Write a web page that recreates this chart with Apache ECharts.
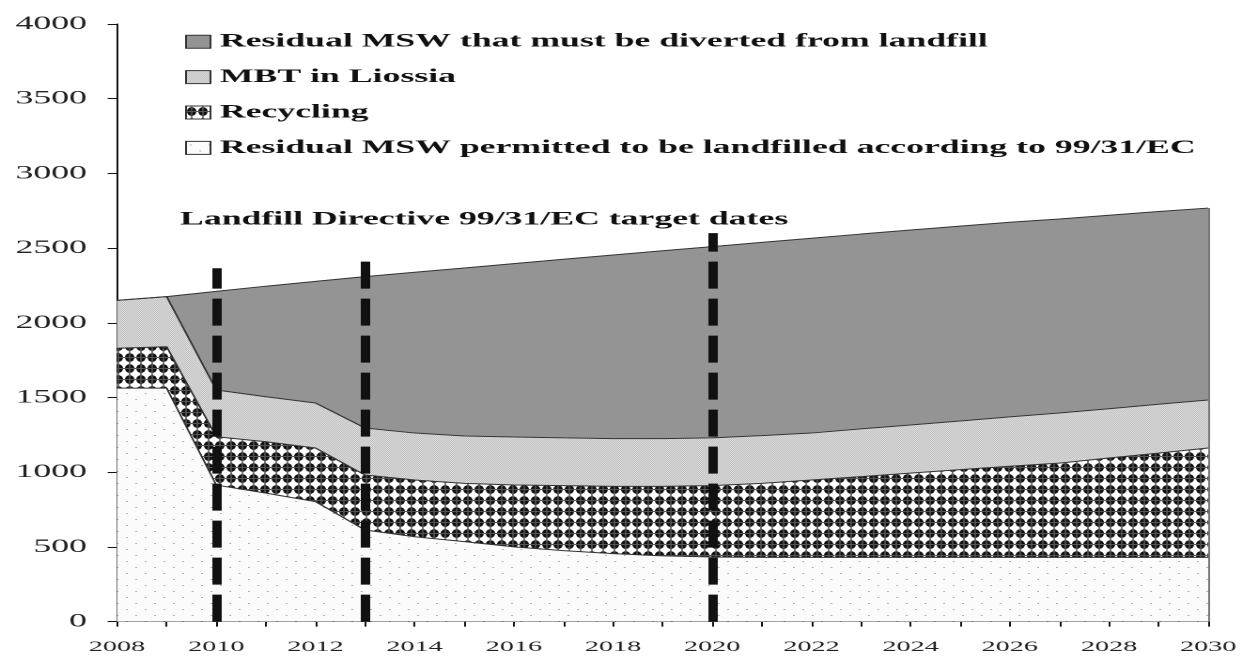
<!DOCTYPE html>
<html>
<head>
<meta charset="utf-8">
<script src="https://cdn.jsdelivr.net/npm/echarts@6/dist/echarts.min.js"></script>
<style>
  html, body { margin: 0; padding: 0; background: #ffffff; overflow: hidden; }
  #wrap { width: 1242px; height: 657px; overflow: hidden; }
  #chart { width: 661px; height: 657px; transform: scaleX(1.879); transform-origin: 0 0; }
</style>
</head>
<body>
<div id="wrap"><div id="chart"></div></div>
<script>
// ---------------- data ----------------
const years = ['2008','2009','2010','2011','2012','2013','2014','2015','2016','2017','2018','2019',
               '2020','2021','2022','2023','2024','2025','2026','2027','2028','2029','2030'];
const seriesNames = [
  'Residual MSW that must be diverted from landfill',
  'MBT in Liossia',
  'Recycling',
  'Residual MSW permitted to be landfilled according to 99/31/EC'
];
// stacked from the bottom: permitted, recycling, MBT, diverted
const permitted = [1563,1563,914,860,803,613,568,535,500,475,455,440,432,430,430,430,430,430,430,430,430,430,430];
const recycling = [267,277,323,344,359,368,380,390,414,435,450,465,478,495,518,540,564,587,610,631,665,698,732];
const mbt       = [320,335,313,301,301,315,314,317,322,320,320,320,320,320,314,320,322,326,330,335,330,327,321];
const diverted  = [0,0,660,740,814,1013,1076,1125,1160,1195,1229,1257,1280,1293,1304,1304,1305,1304,1303,1299,1295,1290,1285];
const yTicks = { min: 0, max: 4000, interval: 500 };
const targetLabel = 'Landfill Directive 99/31/EC target dates';
const targetYears = ['2010','2013','2020'];
const targetTops  = [2365, 2416, 2600];

// ---------------- patterns ----------------
function tile(w, h, draw) {
  const c = document.createElement('canvas');
  c.width = w * 2; c.height = h * 2;
  const ctx = c.getContext('2d');
  ctx.scale(2, 2);
  draw(ctx, w, h);
  return { image: c, repeat: 'repeat', scaleX: 0.5, scaleY: 0.5 };
}
const patPermitted = tile(10, 12, (ctx, w, h) => {
  ctx.fillStyle = '#fbfbfb'; ctx.fillRect(0, 0, w, h);
  ctx.fillStyle = '#b0b0b0';
  ctx.fillRect(2, 3, 1, 1);
  ctx.fillRect(7, 9, 1, 1);
});
const patRecycling = tile(6, 11, (ctx, w, h) => {
  ctx.fillStyle = '#ffffff'; ctx.fillRect(0, 0, w, h);
  ctx.fillStyle = '#111111';
  ctx.beginPath();
  ctx.ellipse(3, 5.5, 2.5, 4.4, 0, 0, Math.PI * 2);
  ctx.fill();
  ctx.fillStyle = '#555555';
  ctx.fillRect(0, 5, w, 1);
  ctx.fillRect(2.6, 0, 0.8, h);
});
const patMBT = tile(1, 2, (ctx, w, h) => {
  ctx.fillStyle = '#dcdcdc'; ctx.fillRect(0, 0, w, h);
  ctx.fillStyle = '#a4a4a4';
  ctx.fillRect(0, 0, 0.5, 0.5);
  ctx.fillRect(0.5, 1, 0.5, 0.5);
});
const colDiverted = '#949494';

// ---------------- chart ----------------
const chart = echarts.init(document.getElementById('chart'), null, { renderer: 'canvas', devicePixelRatio: 2 });
const serif = 'Liberation Serif, Times New Roman, serif';

function areaSeries(name, data, color, extra) {
  return Object.assign({
    name: name,
    type: 'line',
    stack: 'total',
    data: data,
    showSymbol: false,
    symbol: 'none',
    silent: true,
    emphasis: { disabled: true },
    itemStyle: { color: color },
    lineStyle: { color: '#333333', width: 1 },
    areaStyle: { color: color, opacity: 1 }
  }, extra || {});
}

const lastIdx = years.length - 1;
const lastTotal = permitted[lastIdx] + recycling[lastIdx] + mbt[lastIdx] + diverted[lastIdx];

const markData = targetYears.map((y, i) => [
  { coord: [y, 0] },
  { coord: [y, targetTops[i]] }
]);
markData.push([
  { coord: [years[lastIdx], 0], lineStyle: { color: '#777777', width: 1, type: 'solid' } },
  { coord: [years[lastIdx], lastTotal] }
]);

const option = {
  animation: false,
  backgroundColor: '#ffffff',
  title: {
    text: targetLabel,
    left: 95.8,
    top: 210,
    padding: 0,
    textStyle: { fontFamily: serif, fontWeight: 'bold', fontSize: 19, color: '#111111' }
  },
  legend: {
    orient: 'vertical',
    left: 98.5,
    top: 31.7,
    padding: 0,
    itemWidth: 13,
    itemHeight: 13,
    itemGap: 15.4,
    icon: 'rect',
    selectedMode: false,
    data: seriesNames,
    itemStyle: { borderColor: '#333333', borderWidth: 1 },
    textStyle: { fontFamily: serif, fontWeight: 'bold', fontSize: 19, lineHeight: 20, color: '#111111' }
  },
  grid: { left: 62.3, right: 16.2, top: 24, bottom: 35.4, containLabel: false },
  xAxis: {
    type: 'category',
    data: years,
    boundaryGap: false,
    axisLine: { lineStyle: { color: '#111111', width: 1 } },
    axisTick: { show: true, interval: 0, length: 5, lineStyle: { color: '#111111' } },
    axisLabel: { interval: 1, margin: 18, fontFamily: serif, fontSize: 15, color: '#222222' },
    splitLine: { show: false }
  },
  yAxis: {
    type: 'value',
    min: yTicks.min,
    max: yTicks.max,
    interval: yTicks.interval,
    axisLine: { show: true, lineStyle: { color: '#111111', width: 1 } },
    axisTick: { show: true, length: 5, lineStyle: { color: '#111111' } },
    axisLabel: { margin: 16, fontFamily: serif, fontSize: 19, color: '#222222', formatter: v => String(v) },
    splitLine: { show: false }
  },
  series: [
    areaSeries(seriesNames[3], permitted, patPermitted),
    areaSeries(seriesNames[2], recycling, patRecycling),
    areaSeries(seriesNames[1], mbt, patMBT),
    areaSeries(seriesNames[0], diverted, colDiverted, {
      z: 3,
      markLine: {
        silent: true,
        symbol: ['none', 'none'],
        label: { show: false },
        emphasis: { disabled: true },
        animation: false,
        lineStyle: { color: '#111111', width: 5, type: [27, 10], opacity: 1 },
        data: markData
      }
    })
  ]
};
chart.setOption(option);
</script>
</body>
</html>
